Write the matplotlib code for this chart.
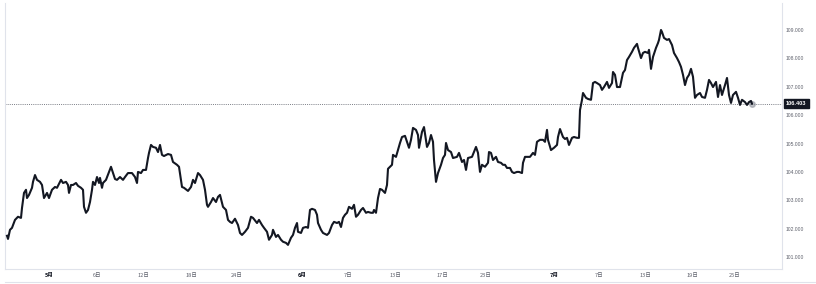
import matplotlib
matplotlib.use("Agg")
import matplotlib.pyplot as plt
from matplotlib.lines import Line2D
import matplotlib.transforms as mtransforms

# ---- data (bar index, price) ----
bars = [7, 8, 10, 12, 15, 18, 21, 22, 24, 26, 27, 29, 32, 33, 35, 37, 40, 42, 44, 47, 49, 52, 55, 57, 61, 63, 66, 68, 69, 71, 73, 76, 78, 81, 83, 84, 86, 88, 90, 92, 93, 95, 97, 99, 100, 102, 103, 106, 109, 111, 113, 115, 117, 120, 123,
        125, 128, 132, 135, 137, 138, 141, 143, 146, 148, 149, 151, 153, 156, 158, 160, 162, 164, 168, 171, 173, 177, 179, 182, 184, 188, 191, 193, 195, 198, 200, 203, 205, 207, 208, 211, 213, 216, 218, 220, 223, 226, 228, 230, 232, 235, 238, 240, 242, 245, 248, 251, 253,
        257, 259, 262, 264, 267, 269, 272, 273, 276, 278, 281, 283, 286, 288, 291, 293, 295, 297, 298, 301, 303, 306, 308, 310, 312, 315, 317, 318, 321, 323, 327, 329, 332, 334, 337, 339, 341, 343, 345, 347, 349, 352, 354, 356, 358, 361, 363, 366, 368, 371, 373, 374, 376, 378,
        380, 382, 385, 387, 388, 390, 392, 393, 396, 398, 400, 402, 405, 407, 409, 411, 413, 416, 418, 419, 422, 424, 427, 429, 431, 433, 434, 436, 438, 441, 443, 445, 446, 448, 451, 453, 457, 459, 462, 464, 466, 468, 472, 474, 476, 478, 480, 482, 485, 488, 489, 491, 493, 496, 498, 501,
        503, 505, 507, 510, 512, 514, 517, 519, 522, 523, 525, 527, 530, 533, 535, 537, 540, 543, 545, 547, 548, 551, 554, 557, 558, 560, 563, 565, 567, 569, 572, 574, 577, 579, 580, 582, 583, 586, 588, 591, 593, 595, 597, 600, 602, 604, 607, 609, 612, 613, 615, 617, 620, 623,
        625, 627, 629, 632, 634, 637, 638, 641, 643, 645, 648, 649, 651, 653, 656, 658, 659, 661, 662, 664, 667, 669, 672, 674, 677, 679, 681, 683, 685, 687, 689, 691, 693, 695, 697, 700, 702, 705, 707, 709, 711, 713, 716, 718, 720, 722, 725, 727, 729, 731, 733, 736, 738, 740, 742, 745, 747, 749, 751, 752]

prices = [101.75, 101.64, 101.96, 102.03, 102.31, 102.42, 102.38, 102.73, 103.26, 103.37, 103.08, 103.19, 103.44, 103.65, 103.89, 103.72, 103.65, 103.54, 103.08, 103.26, 103.08, 103.37, 103.47, 103.44, 103.72, 103.61, 103.65, 103.54, 103.26, 103.54, 103.54, 103.61, 103.51, 103.44, 103.37, 102.77, 102.56, 102.66, 102.94, 103.37, 103.65, 103.54, 103.82, 103.61, 103.79, 103.44, 103.61, 103.72, 104.00, 104.18, 103.96, 103.75, 103.72, 103.82, 103.72,
          103.82, 103.96, 103.96, 103.82, 103.61, 104.00, 103.96, 104.07, 104.07, 104.49, 104.67, 104.95, 104.88, 104.85, 104.70, 104.95, 104.60, 104.56, 104.63, 104.60, 104.35, 104.25, 104.18, 103.47, 103.44, 103.33, 103.47, 103.72, 103.61, 103.96, 103.89, 103.72, 103.37, 102.84, 102.77, 102.94, 103.08, 102.94, 103.12, 103.19, 102.77, 102.66, 102.31, 102.24, 102.20, 102.35, 102.13, 101.85, 101.78, 101.89, 102.03, 102.42, 102.38,
          102.20, 102.31, 102.13, 102.03, 101.89, 101.61, 101.78, 101.96, 101.71, 101.78, 101.61, 101.54, 101.50, 101.43, 101.68, 101.78, 102.03, 102.20, 101.89, 101.85, 102.03, 102.06, 102.03, 102.66, 102.70, 102.66, 102.49, 102.20, 101.96, 101.85, 101.78, 101.85, 102.13, 102.24, 102.20, 102.24, 102.06, 102.38, 102.49, 102.56, 102.77, 102.70, 102.84, 102.42, 102.49, 102.66, 102.73, 102.56, 102.59, 102.56, 102.56, 102.66, 102.56, 103.08,
          103.40, 103.37, 103.26, 103.54, 104.11, 104.18, 104.25, 104.60, 104.53, 104.77, 105.02, 105.23, 105.27, 105.06, 104.85, 105.13, 105.55, 105.48, 105.30, 104.85, 105.41, 105.58, 104.88, 105.02, 105.30, 105.06, 104.42, 103.65, 103.96, 104.25, 104.49, 104.60, 105.02, 104.77, 104.70, 104.49, 104.53, 104.67, 104.35, 104.42, 104.07, 104.49, 104.53, 104.70, 104.88, 104.67, 104.00, 104.25, 104.18, 104.32, 104.70, 104.67, 104.42, 104.53, 104.35, 104.32,
          104.25, 104.25, 104.14, 104.14, 104.00, 103.96, 104.00, 104.00, 103.96, 104.32, 104.53, 104.53, 104.53, 104.67, 104.60, 105.06, 105.13, 105.13, 105.06, 105.48, 105.13, 104.77, 104.85, 104.95, 105.23, 105.51, 105.23, 105.16, 105.20, 104.95, 105.20, 105.23, 105.20, 105.20, 106.18, 106.54, 106.78, 106.61, 106.57, 106.54, 107.13, 107.17, 107.13, 107.06, 106.89, 106.99, 107.17, 106.96, 107.13, 107.52, 107.42, 106.99, 106.99, 107.49,
          107.59, 107.94, 108.05, 108.23, 108.37, 108.51, 108.37, 108.01, 108.19, 108.23, 108.19, 108.30, 107.63, 108.05, 108.37, 108.54, 108.65, 109.00, 108.93, 108.72, 108.65, 108.68, 108.47, 108.19, 108.01, 107.87, 107.70, 107.42, 107.06, 107.31, 107.42, 107.63, 107.35, 106.61, 106.71, 106.78, 106.64, 106.61, 106.89, 107.24, 107.13, 106.99, 107.17, 106.64, 107.06, 106.71, 107.06, 107.31, 106.71, 106.43, 106.71, 106.82, 106.61, 106.36, 106.54, 106.46, 106.36, 106.46, 106.50, 106.403]

last_price = 106.403
tick_bars = [49, 97, 143, 191, 237, 302, 348, 395, 442, 486, 554, 599, 645, 692, 735]
tick_labels = ["5月", "6日", "12日", "18日", "24日", "6月", "7日", "13日", "17日", "23日", "7月", "7日", "13日", "19日", "25日"]
month_labels = {"5月", "6月", "7月"}
y_ticks = [101, 102, 103, 104, 105, 106, 107, 108, 109]

# ---- figure ----
W, H = 816, 284
fig = plt.figure(figsize=(W / 100, H / 100), dpi=100)
fig.patch.set_facecolor("white")
L, R, B, T = 5, 782, 269, 3
ax = fig.add_axes([L / W, (H - B) / H, (R - L) / W, (B - T) / H])

line_col = "#131722"
ax.plot(bars, prices, color=line_col, lw=1.5, solid_joinstyle="round", zorder=3)
ax.plot([bars[-1]], [prices[-1]], "o", ms=4, color="#9598a1", alpha=0.6, zorder=2)
ax.axhline(last_price, color="#7a7d85", lw=0.7, ls=(0, (1, 1.2)), zorder=1)

ax.set_xlim(L, R)
ax.set_ylim(100.58, 109.95)

grid_c = "#e0e3eb"
for s in ["left", "bottom", "right"]:
    ax.spines[s].set_color(grid_c)
    ax.spines[s].set_linewidth(0.8)
ax.spines["top"].set_visible(False)

ax.yaxis.tick_right()
ax.set_yticks(y_ticks)
ax.set_yticklabels([f"{v:.3f}" for v in y_ticks], fontsize=3.6, color="#5d606b",
                   family=["Liberation Sans", "DejaVu Sans"])
ax.tick_params(axis="y", length=0, pad=2.5)

ax.set_xticks(tick_bars)
ax.set_xticklabels(tick_labels, fontsize=4.0, color="#5d606b",
                   family=["Noto Sans CJK SC", "DejaVu Sans"])
for lbl in ax.get_xticklabels():
    if lbl.get_text() in month_labels:
        lbl.set_fontweight("bold")
        lbl.set_color("#131722")
ax.tick_params(axis="x", length=0, pad=3.2)

# price label box
trans = mtransforms.blended_transform_factory(ax.transAxes, ax.transData)
ax.text(1 + 4 / (R - L), last_price, f"{last_price:.3f}", transform=trans,
        ha="left", va="center", fontsize=4.1, color="white", fontweight="bold",
        family=["Liberation Sans", "DejaVu Sans"],
        bbox=dict(boxstyle="square,pad=0.4", fc=line_col, ec=line_col), clip_on=False, zorder=5)

# outer frame line at bottom
fig.add_artist(Line2D([L / W, 1], [(H - 282) / H] * 2, color=grid_c, lw=0.8))

fig.savefig("out.png", dpi=100, facecolor="white")
